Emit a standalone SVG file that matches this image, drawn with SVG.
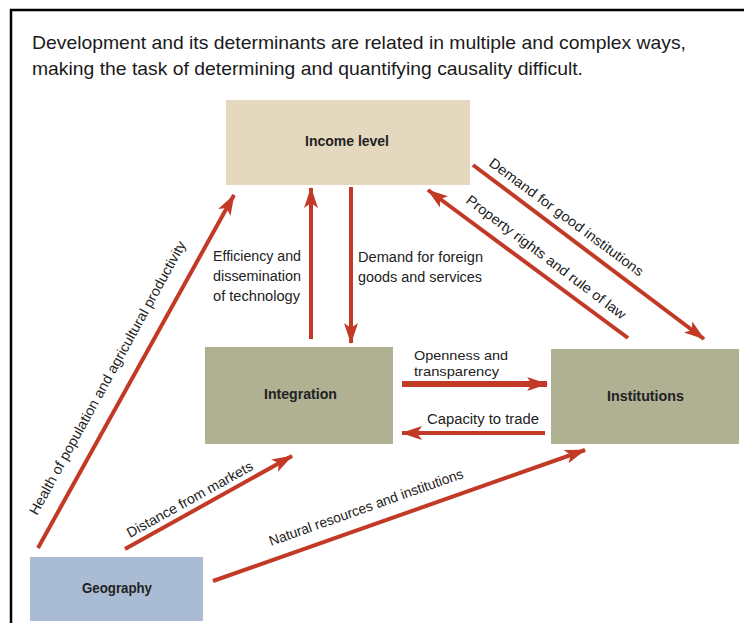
<svg xmlns="http://www.w3.org/2000/svg" width="744" height="623" viewBox="0 0 744 623">
  <style>
    .title { font-family: "Liberation Sans", Arial, sans-serif; font-size: 19px; fill: #1a1a1a; }
    .node-label { font-family: "Liberation Sans", Arial, sans-serif; font-size: 15px; font-weight: bold; fill: #222; }
    .edge-label { font-family: "Liberation Sans", Arial, sans-serif; font-size: 14px; fill: #222; }
    .edge-label.small { font-size: 13px; }
    .link { stroke: #c23a26; stroke-width: 4; fill: none; marker-end: url(#head); }
    .link.thick { stroke-width: 6; }
  </style>
  <defs>
    <marker id="head" markerUnits="userSpaceOnUse" markerWidth="22" markerHeight="14" refX="20" refY="7" orient="auto">
      <path d="M0,0 L21,7 L0,14 L5,7 Z" fill="#c23a26"/>
    </marker>
  </defs>

  <rect width="744" height="623" fill="#ffffff"/>

  <!-- panel frame -->
  <path d="M11,623 L11,10 L744,10" fill="none" stroke="#000" stroke-width="2.5"/>

  <!-- heading -->
  <text class="title" x="32" y="49" textLength="654" lengthAdjust="spacingAndGlyphs">Development and its determinants are related in multiple and complex ways,</text>
  <text class="title" x="32" y="75" textLength="551" lengthAdjust="spacingAndGlyphs">making the task of determining and quantifying causality difficult.</text>

  <!-- connectors -->
  <g id="connectors">
    <line class="link" x1="311" y1="339" x2="311" y2="188"/>
    <line class="link" x1="351" y1="187" x2="351" y2="343"/>
    <line class="link" x1="473" y1="165" x2="704" y2="339"/>
    <line class="link" x1="628" y1="338" x2="428" y2="190"/>
    <line class="link thick" x1="402" y1="384" x2="547" y2="384"/>
    <line class="link" x1="545" y1="433" x2="402" y2="433"/>
    <line class="link" x1="38" y1="548" x2="234" y2="195"/>
    <line class="link" x1="125" y1="549" x2="292" y2="456"/>
    <line class="link" x1="213" y1="581" x2="585" y2="450"/>

    <text class="edge-label" x="213" y="261" textLength="88" lengthAdjust="spacingAndGlyphs">Efficiency and</text>
    <text class="edge-label" x="213" y="281" textLength="88" lengthAdjust="spacingAndGlyphs">dissemination</text>
    <text class="edge-label" x="213" y="301" textLength="87" lengthAdjust="spacingAndGlyphs">of technology</text>
    <text class="edge-label" x="358" y="262" textLength="125" lengthAdjust="spacingAndGlyphs">Demand for foreign</text>
    <text class="edge-label" x="358" y="282" textLength="124" lengthAdjust="spacingAndGlyphs">goods and services</text>
    <text class="edge-label small" x="414" y="360" textLength="94" lengthAdjust="spacingAndGlyphs">Openness and</text>
    <text class="edge-label small" x="414" y="376" textLength="85" lengthAdjust="spacingAndGlyphs">transparency</text>
    <text class="edge-label" x="427" y="424" textLength="112" lengthAdjust="spacingAndGlyphs">Capacity to trade</text>
    <text class="edge-label" transform="translate(488,165) rotate(36.5)" textLength="188" lengthAdjust="spacingAndGlyphs">Demand for good institutions</text>
    <text class="edge-label" transform="translate(465,202) rotate(37)" textLength="196" lengthAdjust="spacingAndGlyphs">Property rights and rule of law</text>
    <text class="edge-label" transform="translate(37,516) rotate(-61.2)" textLength="310" lengthAdjust="spacingAndGlyphs">Health of population and agricultural productivity</text>
    <text class="edge-label" transform="translate(130,538) rotate(-29)" textLength="142" lengthAdjust="spacingAndGlyphs">Distance from markets</text>
    <text class="edge-label" transform="translate(271,546) rotate(-19.5)" textLength="205" lengthAdjust="spacingAndGlyphs">Natural resources and institutions</text>
  </g>

  <!-- nodes -->
  <g id="income-level">
    <rect x="226" y="100" width="244" height="85" fill="#e4d8bf"/>
    <text class="node-label" x="305" y="146" textLength="84" lengthAdjust="spacingAndGlyphs">Income level</text>
  </g>
  <g id="integration">
    <rect x="205" y="347" width="188" height="97" fill="#b0b093"/>
    <text class="node-label" x="264" y="399" textLength="73" lengthAdjust="spacingAndGlyphs">Integration</text>
  </g>
  <g id="institutions">
    <rect x="551" y="349" width="188" height="95" fill="#b0b093"/>
    <text class="node-label" x="607" y="401" textLength="77" lengthAdjust="spacingAndGlyphs">Institutions</text>
  </g>
  <g id="geography">
    <rect x="30" y="557" width="173" height="64" fill="#aabbd4"/>
    <text class="node-label" x="82" y="593" textLength="70" lengthAdjust="spacingAndGlyphs">Geography</text>
  </g>
</svg>
